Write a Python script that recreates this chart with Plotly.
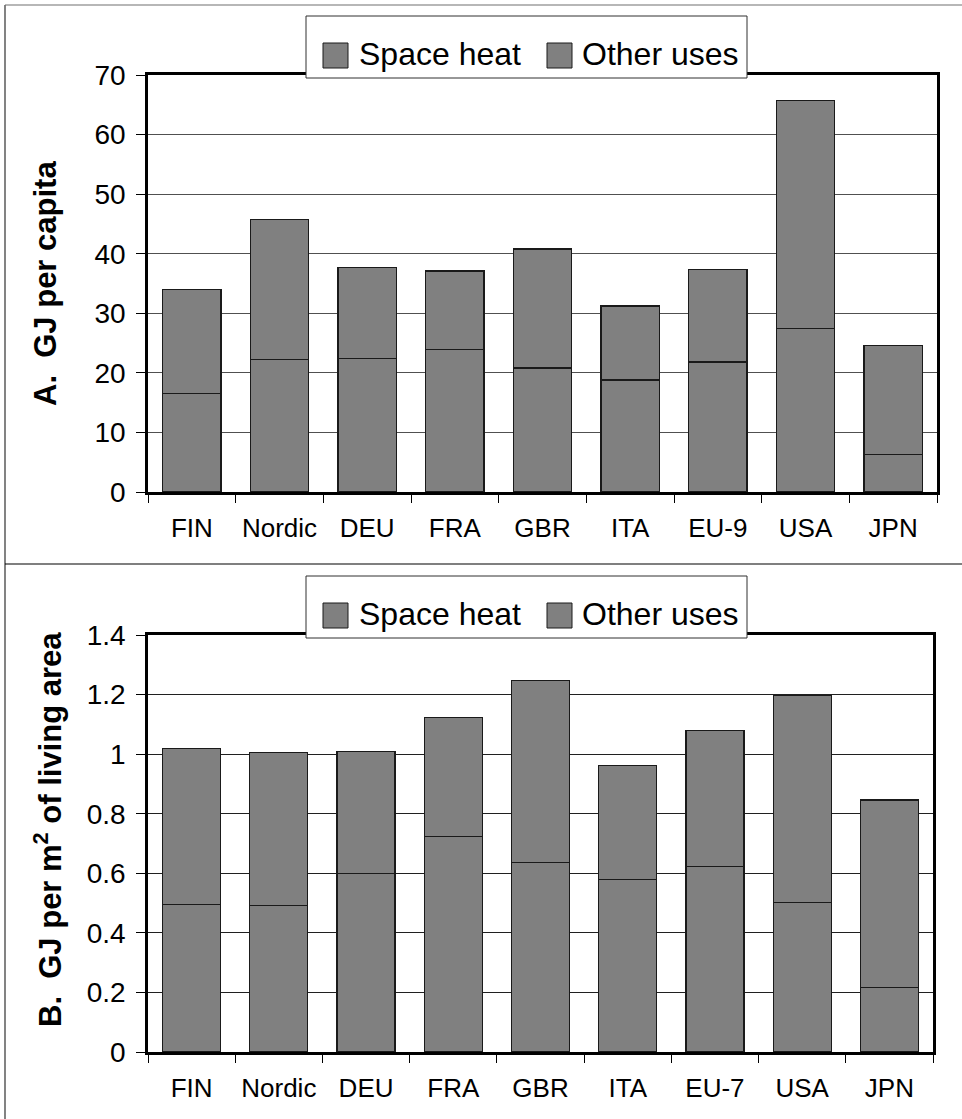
import plotly.graph_objects as go

# Residential energy use, split into space heating and other uses
cats_a = ["FIN", "Nordic", "DEU", "FRA", "GBR", "ITA", "EU-9", "USA", "JPN"]
space_a = [16.5, 22.3, 22.4, 23.9, 20.8, 18.8, 21.8, 27.5, 6.3]
other_a = [17.5, 23.4, 15.3, 13.2, 20.0, 12.4, 15.6, 38.2, 18.3]

cats_b = ["FIN", "Nordic", "DEU", "FRA", "GBR", "ITA", "EU-7", "USA", "JPN"]
space_b = [0.496, 0.493, 0.600, 0.724, 0.636, 0.580, 0.622, 0.503, 0.217]
other_b = [0.522, 0.513, 0.408, 0.398, 0.612, 0.382, 0.457, 0.695, 0.629]

series_names = ["Space heat", "Other uses"]
title_a = "<b>A.\u00a0\u00a0GJ per capita</b>"
title_b = "<b>B.\u00a0\u00a0GJ per m<sup>2</sup> of living area</b>"

W, H = 962, 1119
FONT = "Liberation Sans, Arial, sans-serif"
BAR_FILL = "#808080"
BAR_EDGE = "#1a1a1a"


def px_x(x):
    return x / W


def px_y(y):
    return 1 - y / H


fig = go.Figure()

for xa, ya, cats, space, other in [
    ("x", "y", cats_a, space_a, other_a),
    ("x2", "y2", cats_b, space_b, other_b),
]:
    for name, vals in zip(series_names, [space, other]):
        fig.add_trace(go.Bar(
            x=cats, y=vals, name=name, xaxis=xa, yaxis=ya,
            marker=dict(color=BAR_FILL, line=dict(color=BAR_EDGE, width=1.3)),
            showlegend=False, hoverinfo="x+y+name",
        ))

axis_common = dict(
    showline=True, linecolor="black", linewidth=2.5, mirror=True,
    ticks="outside", tickcolor="black", tickwidth=1,
    zeroline=False, fixedrange=True, automargin=False,
)

fig.update_layout(
    template="none",
    width=W, height=H,
    margin=dict(l=0, r=0, t=0, b=0, pad=0, autoexpand=False),
    paper_bgcolor="white", plot_bgcolor="white",
    barmode="stack", bargap=0.335,
    showlegend=False,
    font=dict(family=FONT, color="black"),
    xaxis=dict(domain=[px_x(148), px_x(937)], anchor="y",
               tickson="boundaries", ticklen=8, showgrid=False,
               tickfont=dict(size=26), ticklabelstandoff=11,
               **axis_common),
    yaxis=dict(domain=[px_y(492), px_y(75)], anchor="x",
               range=[0, 70], dtick=10, ticklen=9, showgrid=True,
               gridcolor="#505050", gridwidth=1,
               tickfont=dict(size=28), ticklabelstandoff=5,
               **axis_common),
    xaxis2=dict(domain=[px_x(148), px_x(933)], anchor="y2",
                tickson="boundaries", ticklen=8, showgrid=False,
                tickfont=dict(size=26), ticklabelstandoff=11,
                **axis_common),
    yaxis2=dict(domain=[px_y(1052), px_y(635)], anchor="x2",
                range=[0, 1.4], dtick=0.2, ticklen=9, showgrid=True,
                gridcolor="#202020", gridwidth=1,
                tickfont=dict(size=28), ticklabelstandoff=5,
                **axis_common),
)

shapes = []
annotations = []

# Outer frame lines of the two panels
shapes.append(dict(type="line", xref="paper", yref="paper",
                   x0=px_x(5), x1=px_x(5), y0=px_y(5), y1=0,
                   line=dict(color="#303030", width=1.2)))
shapes.append(dict(type="line", xref="paper", yref="paper",
                   x0=px_x(5), x1=1, y0=px_y(5), y1=px_y(5),
                   line=dict(color="#707070", width=1.2)))
shapes.append(dict(type="line", xref="paper", yref="paper",
                   x0=px_x(5), x1=1, y0=px_y(564), y1=px_y(564),
                   line=dict(color="black", width=1.2)))

# Legend boxes (one per panel)
for top in (16, 576):
    shapes.append(dict(type="rect", xref="paper", yref="paper", layer="above",
                       x0=px_x(306), x1=px_x(747), y0=px_y(top), y1=px_y(top + 62),
                       fillcolor="white", line=dict(color="#303030", width=1)))
    for sx, tx, label in [(323, 359, series_names[0]), (547, 582, series_names[1])]:
        shapes.append(dict(type="rect", xref="paper", yref="paper", layer="above",
                           x0=px_x(sx), x1=px_x(sx + 25),
                           y0=px_y(top + 27), y1=px_y(top + 52),
                           fillcolor=BAR_FILL, line=dict(color=BAR_EDGE, width=1)))
        annotations.append(dict(xref="paper", yref="paper",
                                x=px_x(tx - 2), y=px_y(top + 38),
                                xanchor="left", yanchor="middle", showarrow=False,
                                text=label, font=dict(size=32, family=FONT)))

# Y-axis titles
annotations.append(dict(xref="paper", yref="paper", x=px_x(45), y=px_y(284),
                        xanchor="center", yanchor="middle", textangle=-90,
                        showarrow=False, text=title_a,
                        font=dict(size=31, family=FONT)))
annotations.append(dict(xref="paper", yref="paper", x=px_x(48), y=px_y(830),
                        xanchor="center", yanchor="middle", textangle=-90,
                        showarrow=False, text=title_b,
                        font=dict(size=31, family=FONT)))

fig.update_layout(shapes=shapes, annotations=annotations)

fig.write_html("out.html")
